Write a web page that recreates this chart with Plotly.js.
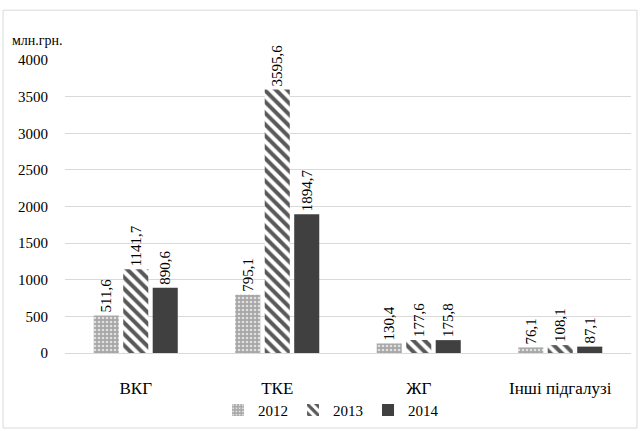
<!DOCTYPE html>
<html><head><meta charset="utf-8">
<script src="https://cdn.plot.ly/plotly-3.0.1.min.js"></script>
<style>html,body{margin:0;padding:0;background:#fff}#c{width:640px;height:431px}#c text{font-family:'Liberation Serif' !important}</style>
</head><body><div id="c"></div>
<script>
const categories = ["ВКГ", "ТКЕ", "ЖГ", "Інші підгалузі"];
const years = ["2012", "2013", "2014"];
const v2012 = [511.6, 795.1, 130.4, 76.1];
const v2013 = [1141.7, 3595.6, 177.6, 108.1];
const v2014 = [890.6, 1894.7, 175.8, 87.1];
const yTicks = [0, 500, 1000, 1500, 2000, 2500, 3000, 3500, 4000];

const fmt = v => v.toFixed(1).replace('.', ',');
const FAM = 'Liberation Serif';
function bar(name, vals, marker) {
  return {type: 'bar', name: name, x: categories, y: vals, marker: marker,
    text: vals.map(fmt), textposition: 'outside', textangle: -90, cliponaxis: false,
    constraintext: 'none',
    textfont: {family: FAM, size: 15, color: '#000'}};
}
const data = [
  bar(years[0], v2012, {color: '#a6a6a6', pattern: {shape: '.', bgcolor: '#a6a6a6', fgcolor: '#e0e0e0', size: 4, solidity: 0.35, fillmode: 'replace'}, line: {width: 0}}),
  bar(years[1], v2013, {color: '#595959', pattern: {shape: '\\', bgcolor: '#ffffff', fgcolor: '#595959', size: 8, solidity: 0.5, fillmode: 'replace'}, line: {width: 0}}),
  bar(years[2], v2014, {color: '#404040', line: {width: 0}})
];
const layout = {
  width: 640, height: 431,
  margin: {l: 65, r: 9, t: 60, b: 78, autoexpand: false},
  paper_bgcolor: '#fff', plot_bgcolor: '#fff',
  font: {family: FAM, size: 15, color: '#000'},
  barmode: 'group', bargap: 0.375, bargroupgap: 0.15,
  showlegend: true,
  legend: {orientation: 'h', x: 0.47, xanchor: 'center', xref: 'paper', y: -0.195, yanchor: 'middle', font: {family: FAM, size: 15, color: '#000'}, itemwidth: 30, traceorder: 'normal'},
  xaxis: {showline: true, linecolor: '#d9d9d9', linewidth: 1, ticks: '', tickfont: {family: FAM, size: 17, color: '#000'}, ticklabelstandoff: 20},
  yaxis: {range: [0, 4000], tickvals: yTicks, ticktext: yTicks.map(String), showgrid: true, gridcolor: '#d9d9d9', gridwidth: 1, zeroline: false, showline: false, tickfont: {family: FAM, size: 15, color: '#000'}, ticklabelstandoff: 16},
  annotations: [{text: 'млн.грн.', xref: 'paper', yref: 'paper', x: -0.097, y: 1.035, xanchor: 'left', yanchor: 'bottom', showarrow: false, font: {family: FAM, size: 14, color: '#000'}}],
  shapes: [{type: 'rect', xref: 'paper', yref: 'paper', x0: -0.1095, x1: 1.0106, y0: -0.256, y1: 1.17, line: {color: '#d9d9d9', width: 1}}]
};
Plotly.newPlot('c', data, layout, {staticPlot: true, displayModeBar: false});
</script></body></html>
